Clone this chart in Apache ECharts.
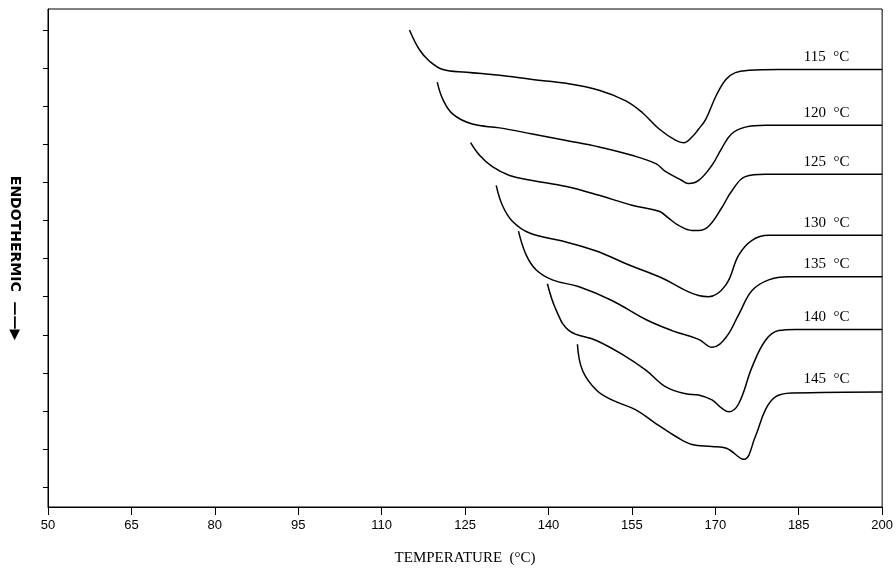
<!DOCTYPE html>
<html>
<head>
<meta charset="utf-8">
<script src="https://cdn.jsdelivr.net/npm/echarts@6/dist/echarts.min.js"></script>
<style>
html, body { margin: 0; padding: 0; background: #fff; }
#chart { width: 896px; height: 571px; }
</style>
</head>
<body>
<div id="chart"></div>
<script>
// DSC melting curves after isothermal crystallization, temperature (°C) vs heat flow (arb. units)
var crystTemps = [115, 120, 125, 130, 135, 140, 145]
var xTicks = [50, 65, 80, 95, 110, 125, 140, 155, 170, 185, 200]
var yTicks = [0, 1, 2, 3, 4, 5, 6, 7, 8, 9, 10, 11, 12]

var curve115 = [[115.0, 12.0], [116.8, 11.48], [118.6, 11.18], [121.0, 10.96], [125.3, 10.89], [131.2, 10.81],
  [137.1, 10.70], [143.2, 10.60], [149.1, 10.42], [153.9, 10.14], [156.8, 9.84], [159.9, 9.40], [162.9, 9.10],
  [164.3, 9.04], [165.8, 9.19], [167.0, 9.40], [168.3, 9.66], [170.1, 10.26], [171.9, 10.70], [173.6, 10.88],
  [176.0, 10.94], [181.4, 10.96], [200, 10.96]]
var curve120 = [[120.0, 10.63], [121.0, 10.18], [122.8, 9.79], [126.3, 9.53], [131.2, 9.43], [137.1, 9.27],
  [143.2, 9.10], [149.1, 8.93], [155.0, 8.71], [159.3, 8.49], [161.1, 8.28], [164.0, 8.05], [165.2, 7.97],
  [167.0, 8.05], [169.4, 8.45], [171.1, 8.88], [172.9, 9.27], [175.4, 9.45], [179.0, 9.50], [200, 9.50]]
var curve125 = [[126.0, 9.04], [127.6, 8.71], [129.9, 8.41], [133.0, 8.18], [137.1, 8.05], [143.2, 7.89],
  [149.1, 7.66], [155.0, 7.40], [159.9, 7.24], [161.6, 7.06], [163.4, 6.87], [165.8, 6.74], [167.0, 6.74],
  [168.8, 6.85], [171.1, 7.32], [172.9, 7.76], [175.4, 8.15], [179.0, 8.21], [200, 8.21]]
var curve130 = [[130.6, 7.92], [131.7, 7.40], [133.5, 6.98], [136.6, 6.67], [142.5, 6.46], [148.6, 6.20],
  [154.5, 5.83], [160.4, 5.49], [164.7, 5.16], [167.0, 5.03], [168.8, 5.00], [171.9, 5.31], [174.2, 6.09],
  [176.6, 6.48], [179.6, 6.61], [200, 6.61]]
var curve135 = [[134.6, 6.72], [136.0, 6.09], [137.8, 5.70], [140.7, 5.44], [145.5, 5.26], [151.4, 4.90],
  [157.5, 4.40], [162.2, 4.11], [167.0, 3.88], [169.4, 3.67], [171.9, 3.93], [174.2, 4.53], [176.6, 5.16],
  [179.6, 5.44], [183.2, 5.52], [200, 5.52]]
var curve140 = [[139.8, 5.34], [141.4, 4.64], [143.7, 4.11], [148.6, 3.85], [153.2, 3.49], [157.5, 3.07],
  [161.1, 2.63], [164.7, 2.45], [167.0, 2.42], [169.4, 2.29], [171.1, 2.08], [172.4, 1.98], [174.2, 2.19],
  [176.6, 3.15], [179.0, 3.85], [181.4, 4.11], [184.4, 4.14], [200, 4.14]]
var curve145 = [[145.2, 3.75], [146.1, 3.07], [148.6, 2.55], [151.4, 2.29], [155.7, 2.03], [159.3, 1.67],
  [162.9, 1.33], [165.8, 1.12], [169.4, 1.07], [172.0, 1.02], [175.1, 0.73], [177.2, 1.33], [179.0, 2.03],
  [180.8, 2.37], [183.7, 2.47], [200, 2.50]]

var curves = [curve115, curve120, curve125, curve130, curve135, curve140, curve145]
var labelTemp = 190

var mychart = echarts.init(document.getElementById('chart'))

var series = curves.map(function (c, i) {
  var plateau = c[c.length - 1][1]
  return {
    name: crystTemps[i] + ' °C',
    type: 'line',
    data: c,
    smooth: 0.4,
    showSymbol: false,
    silent: true,
    lineStyle: { color: '#000', width: 1.5 },
    markPoint: {
      symbol: 'circle',
      symbolSize: 0,
      silent: true,
      label: {
        show: true,
        position: 'top',
        distance: 5,
        color: '#000',
        fontFamily: 'Liberation Serif',
        fontSize: 15,
        formatter: crystTemps[i] + '  °C'
      },
      data: [{ coord: [labelTemp, plateau] }]
    }
  }
})

mychart.setOption({
  animation: false,
  backgroundColor: '#fff',
  grid: {
    left: 47,
    right: 12,
    top: 9,
    bottom: 60,
    show: true,
    borderColor: '#000',
    borderWidth: 1
  },
  xAxis: {
    type: 'value',
    min: 50,
    max: 200,
    interval: 15,
    name: 'TEMPERATURE  (°C)',
    nameLocation: 'middle',
    nameGap: 44,
    nameTextStyle: { fontFamily: 'Liberation Serif', fontSize: 15, color: '#000' },
    axisLine: { show: true, onZero: false, lineStyle: { color: '#000', width: 1 } },
    axisTick: { show: true, inside: false, length: 8, lineStyle: { color: '#000' } },
    axisLabel: { margin: 12, fontFamily: 'Liberation Sans', fontSize: 13, color: '#000' },
    splitLine: { show: false }
  },
  yAxis: {
    type: 'value',
    min: -0.52,
    max: 12.55,
    name: 'ENDOTHERMIC  ——▶',
    nameLocation: 'middle',
    nameRotate: -90,
    nameGap: 26,
    nameTextStyle: { fontFamily: 'DejaVu Sans', fontWeight: 'bold', fontSize: 14, color: '#000' },
    axisLine: { show: true, onZero: false, lineStyle: { color: '#000', width: 1 } },
    axisTick: { show: true, inside: false, length: 5, customValues: yTicks, lineStyle: { color: '#000' } },
    axisLabel: { show: false },
    splitLine: { show: false }
  },
  series: series
})
</script>
</body>
</html>
